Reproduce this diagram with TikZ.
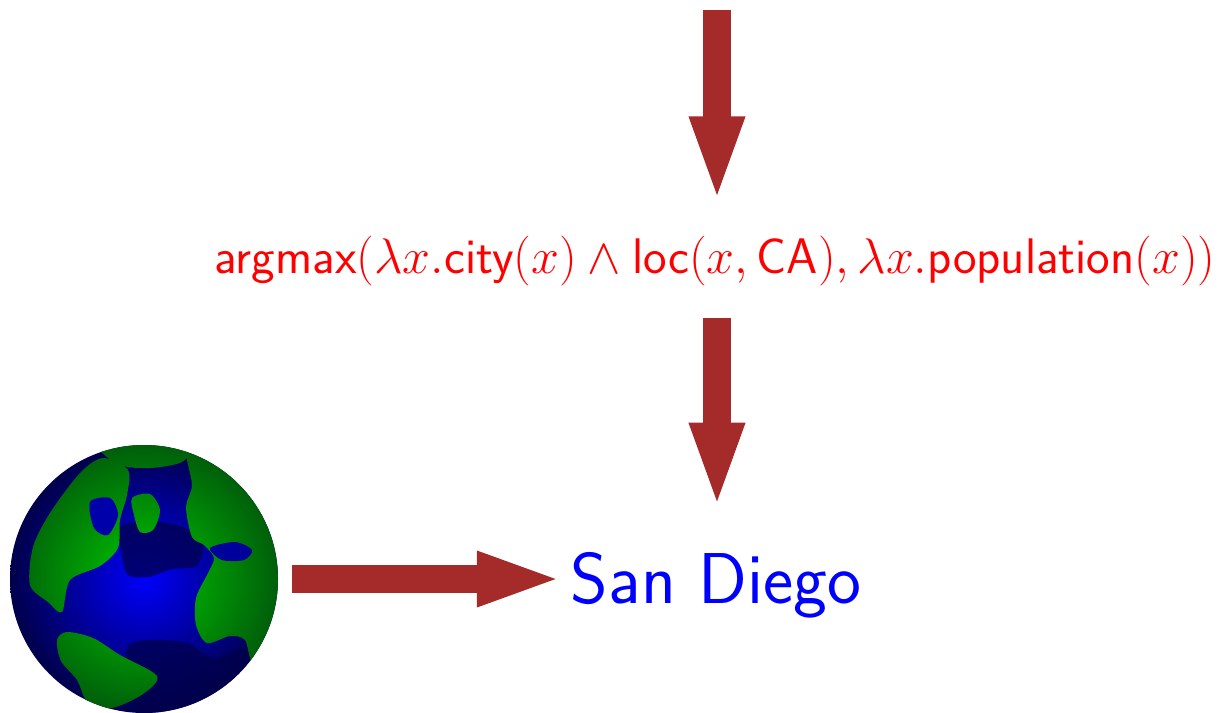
\RequirePackage{fix-cm}
\documentclass[tikz,border=0pt]{standalone}
\usetikzlibrary{arrows.meta}

\definecolor{arrowbrown}{RGB}{165,42,42}
\definecolor{ocean}{RGB}{0,0,250}
\definecolor{deepsea}{RGB}{0,0,75}
\definecolor{land}{RGB}{0,200,0}
\definecolor{darkland}{RGB}{0,95,10}

\tikzset{
	bigarrow/.style={arrowbrown, line width=28pt, -{Triangle[length=87pt, width=49pt]}},
	label/.style={inner sep=0pt, anchor=base},
}

\begin{document}
\begin{tikzpicture}[x=1pt, y=-1pt]
	\useasboundingbox (0,0) rectangle (1222,712);

	% the earth
	\node[circle, minimum size=268pt, inner sep=0pt, inner color=ocean, outer color=deepsea] (globe) at (144,579) {};
	\begin{scope}
		\clip (globe.center) circle (134);
		\fill[deepsea, opacity=0.75] plot[smooth cycle] coordinates {(120,527) (150,521) (185,528) (203,545) (196,566) (172,569) (148,577) (128,575) (122,555)};
		\fill[deepsea, opacity=0.75] plot[smooth cycle] coordinates {(127,648) (150,640) (187,643) (214,658) (248,648) (262,680) (222,716) (150,716) (128,690)};
		\path[clip]
			plot[smooth cycle] coordinates {(30,585) (33,547) (50,513) (80,473) (103,458) (128,470) (127,495) (120,520) (118,548) (100,566) (70,580) (62,612) (48,602)}
			plot[smooth cycle] coordinates {(100,447) (150,440) (190,446) (182,462) (150,468) (120,465)}
			plot[smooth cycle] coordinates {(132,498) (150,494) (160,510) (153,530) (140,532) (134,515)}
			plot[smooth cycle] coordinates {(187,450) (217,458) (253,485) (273,527) (280,580) (273,627) (253,662) (245,640) (230,636) (207,643) (196,625) (196,598) (208,573) (214,558) (204,545) (192,537) (186,507) (192,485)}
			plot[smooth cycle] coordinates {(57,640) (67,632) (93,638) (120,655) (157,676) (143,694) (112,708) (88,703) (77,680) (61,661)};
		\shade[inner color=land, outer color=darkland] (globe.center) circle (134);
	\end{scope}
	% inland seas
	\fill[ocean!55!deepsea] plot[smooth cycle] coordinates {(90,502) (110,498) (118,515) (108,535) (94,528)};
	\fill[ocean!45!deepsea] plot[smooth cycle] coordinates {(210,548) (235,542) (252,550) (244,560) (222,560)};

	\node[label, text=red, font=\sffamily\fontsize{50}{60}\selectfont] (formula) at (715,273)
		{$\textsf{argmax}(\lambda x.\textsf{city}(x) \wedge \textsf{loc}(x, \textsf{CA}), \lambda x.\textsf{population}(x))$};
	\node[label, text=blue, font=\sffamily\fontsize{72}{86}\selectfont] (sd) at (716,603) {San Diego};

	\coordinate (src) at (717,10);
	\draw[bigarrow, shorten >=32pt] (src) -- (src |- formula.north);
	\draw[bigarrow, shorten <=32pt, shorten >=42pt] (formula.south -| src) -- (sd.north -| src);
	\draw[bigarrow, shorten <=14pt, shorten >=7pt] (globe.east) -- (globe.east -| sd.west);
\end{tikzpicture}
\end{document}
